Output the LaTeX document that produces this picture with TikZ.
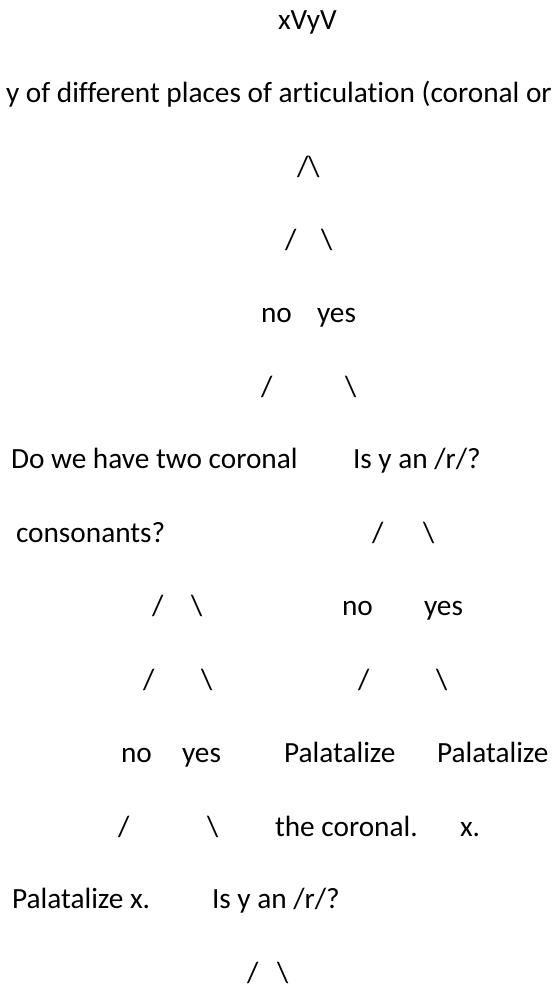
\documentclass[tikz,border=0pt]{standalone}
\usepackage{fontspec}
\setmainfont{Carlito}[Ligatures=NoCommon]
\begin{document}
\begin{tikzpicture}[x=1bp,y=-1bp,
  txt/.style={anchor=base west,inner sep=0pt,outer sep=0pt,
    font=\fontsize{29.3bp}{35bp}\selectfont}]
\useasboundingbox (0,0) rectangle (552,984);
\clip (0,0) rectangle (552,984);
% row 1-2: the form and the first question
\node[txt] (form) at (278,29) {xVyV};
\node[txt] (q1) at (6,102) {y of different places of articulation (coronal or};
% row 3-6: first split
\node[txt] (top) at (297,176) {/\textbackslash};
\node[txt] (s1l) at (285,249) {/};
\node[txt] (s1r) at (321,249) {\textbackslash};
\node[txt] (no1) at (261,322) {no};
\node[txt] (yes1) at (317,322) {yes};
\node[txt] (s2l) at (261,396) {/};
\node[txt] (s2r) at (345,396) {\textbackslash};
% row 7-8: second level questions
\node[txt] (q2a) at (11,468) {Do we have two coronal};
\node[txt] (q3) at (353,468) {Is y an /r/?};
\node[txt] (q2b) at (16,542) {consonants?};
\node[txt] (s3l) at (372,542) {/};
\node[txt] (s3r) at (423,542) {\textbackslash};
% row 9-10
\node[txt] (s4l) at (152,615) {/};
\node[txt] (s4r) at (191,615) {\textbackslash};
\node[txt] (no3) at (342,615) {no};
\node[txt] (yes3) at (424,615) {yes};
\node[txt] (s5l) at (143,689) {/};
\node[txt] (s5r) at (201,689) {\textbackslash};
\node[txt] (s6l) at (358,689) {/};
\node[txt] (s6r) at (436,689) {\textbackslash};
% row 11-12
\node[txt] (no2) at (121,762) {no};
\node[txt] (yes2) at (182,762) {yes};
\node[txt] (palc1) at (284,762) {Palatalize};
\node[txt] (palx1) at (437,762) {Palatalize};
\node[txt] (s7l) at (118,836) {/};
\node[txt] (s7r) at (207,836) {\textbackslash};
\node[txt] (palc2) at (275,836) {the coronal.};
\node[txt] (palx2) at (460,836) {x.};
% row 13-14
\node[txt] (palx) at (12,908) {Palatalize x.};
\node[txt] (q4) at (212,908) {Is y an /r/?};
\node[txt] (s8l) at (247,982) {/};
\node[txt] (s8r) at (277,982) {\textbackslash};
\end{tikzpicture}
\end{document}
